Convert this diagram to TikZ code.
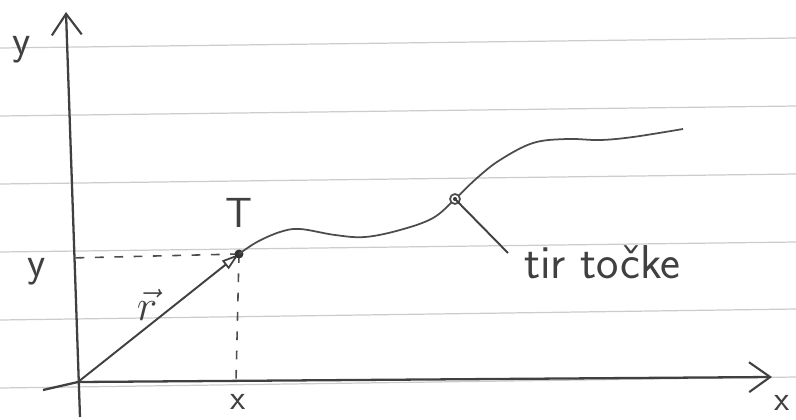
\documentclass[tikz,border=0pt]{standalone}
\usepackage{fontspec}
\usepackage{tikz}
\usetikzlibrary{arrows.meta}
\usetikzlibrary{positioning}
\tikzset{
  papir/.style={gray!40, line width=0.7pt},
  os/.style={-{Straight Barb[length=12pt, width=17pt, line width=1.2pt]}, line width=1.3pt, black!75},
  vektor/.style={-{Triangle[open, length=10pt, width=6pt, line width=1pt]}, line width=1.1pt, black!75},
  crtkano/.style={dash pattern=on 5pt off 6pt, line width=0.9pt, black!70},
  tir/.style={line width=1pt, black!70},
  kazalec/.style={line width=1.1pt, black!75},
  oznaka/.style={font=\sffamily\fontsize{24}{26}\selectfont, text=black!75, inner sep=1pt},
}

\begin{document}
\begin{tikzpicture}[x=0.02cm, y=-0.02cm]
  \useasboundingbox (0,0) rectangle (796,420);
  % crte na papirju
  \foreach \levo/\desno in {48/38, 116/106, 184/174, 252/242, 320/309, 388/377}
    \draw[papir] (0,\levo) -- (796,\desno);

  % koordinatni osi
  \coordinate (O) at (78,382);
  \coordinate (yzac) at (80,417);
  \coordinate (ykon) at (66,12);
  \coordinate (xzac) at (43,390);
  \coordinate (xkon) at (772,377);
  \draw[os] (yzac) -- (ykon);
  \draw[os] (xzac) -- (O) -- (xkon);
  \node[oznaka] (ly) at (22,50) {y};
  \node[oznaka, font=\sffamily\fontsize{20}{22}\selectfont] (lx) at (782,403) {x};

  % tocka T in krajevni vektor
  \coordinate (T) at (239,254);
  \coordinate (Ty) at (70,258);
  \coordinate (Tx) at (236,382);
  \draw[crtkano] (T) -- (Ty);
  \draw[crtkano] (T) -- (Tx);
  \draw[vektor] (O) -- (T);
  \fill[black!80] (T) circle[radius=0.09cm];
  \node[oznaka] (lT) at (239,213) {T};
  \node[oznaka] (lr) at (147,305) {$\vec{r}$};
  \node[oznaka] (lyT) at (37,272) {y};
  \node[oznaka, font=\sffamily\fontsize{20}{22}\selectfont] (lxT) at (238,402) {x};

  % tir tocke
  \coordinate (P) at (455,199);
  \draw[tir] plot[smooth, tension=0.6] coordinates {(T) (257,242) (280,232) (300,229) (335,235) (365,237) (400,230) (433,218) (P) (477,178) (500,160) (533,143) (567,139) (600,140) (633,137) (683,129)};
  \draw[tir, fill=white] (P) circle[radius=0.1cm];
  \fill[black!80] (P) circle[radius=0.04cm];
  \coordinate (kaz) at (508,253);
  \draw[kazalec] (P) -- (kaz);
  \node[oznaka, anchor=west, font=\sffamily\fontsize{27}{29}\selectfont] (ltir) at (522,262) {tir točke};
\end{tikzpicture}
\end{document}
